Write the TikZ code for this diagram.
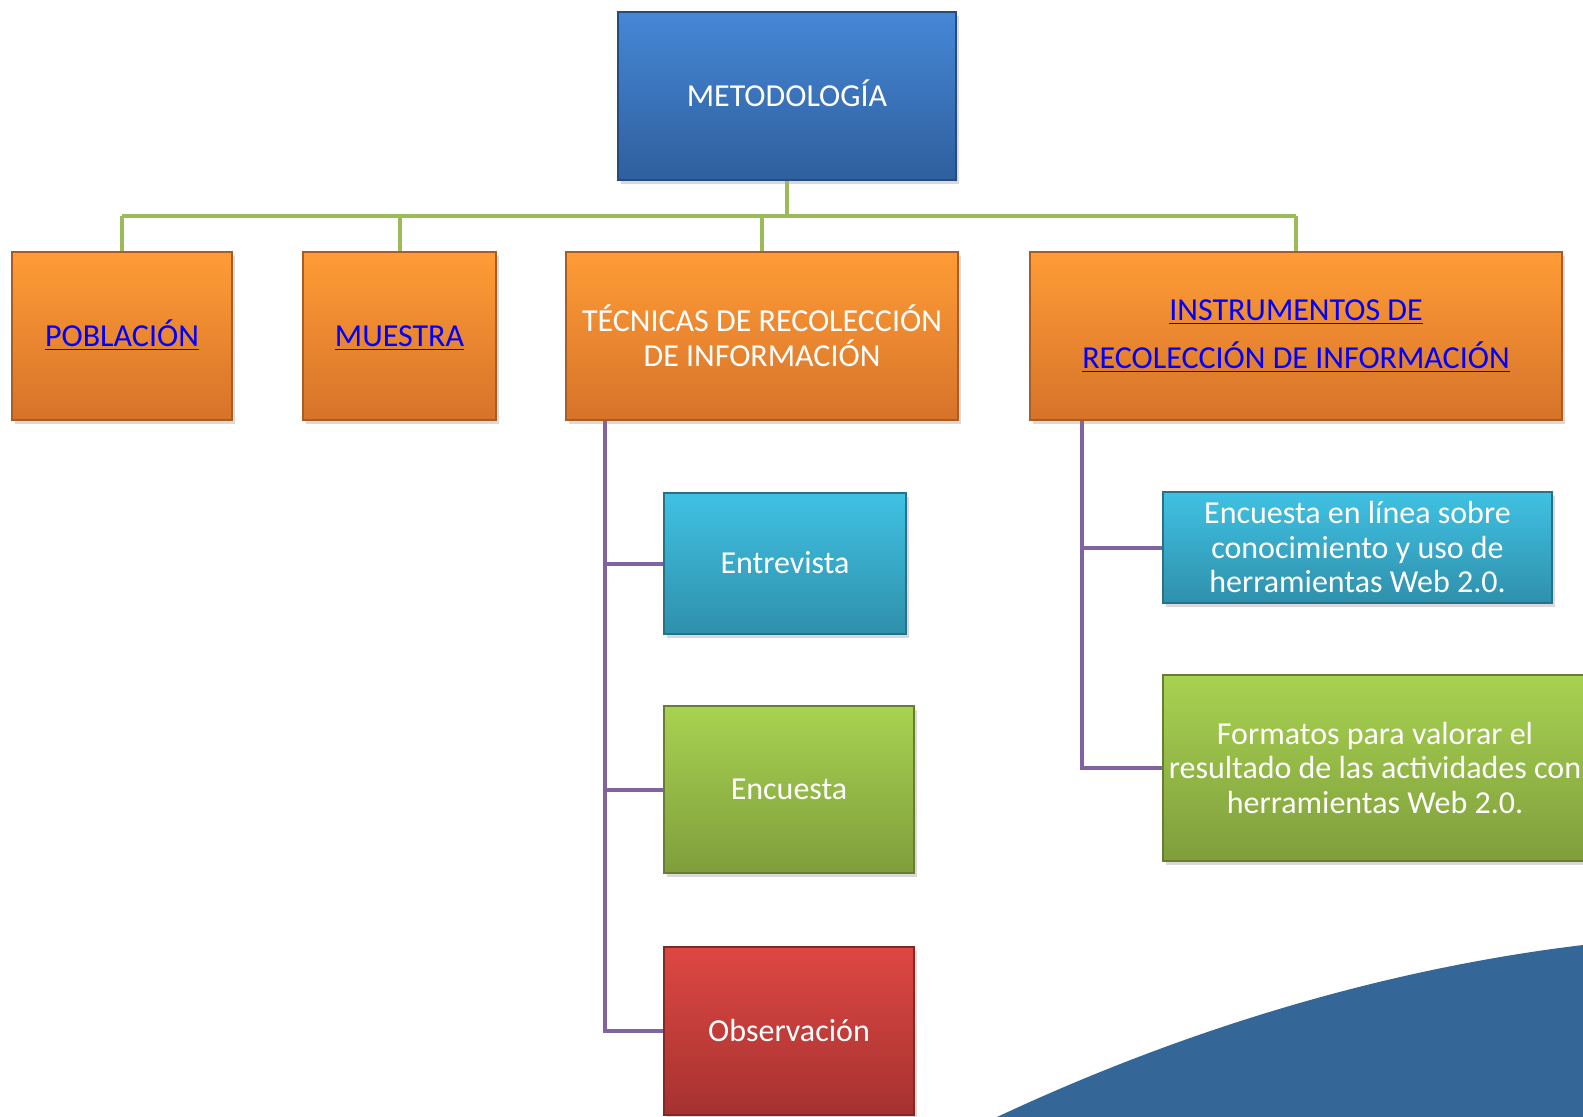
\documentclass[tikz,border=0pt]{standalone}
\usepackage{fontspec}
\setmainfont{Carlito}
\usetikzlibrary{shadows}
\definecolor{azulA}{HTML}{4587D6}
\definecolor{azulB}{HTML}{2F5F9D}
\definecolor{naranjaA}{HTML}{FF9C36}
\definecolor{naranjaB}{HTML}{D6732A}
\definecolor{celesteA}{HTML}{40C1E3}
\definecolor{celesteB}{HTML}{2F90AB}
\definecolor{verdeA}{HTML}{A8D251}
\definecolor{verdeB}{HTML}{7F9E3C}
\definecolor{rojoA}{HTML}{DE4743}
\definecolor{rojoB}{HTML}{A53230}
\definecolor{ramaverde}{HTML}{9BBB59}
\definecolor{tallomorado}{HTML}{8064A2}
\definecolor{fondoazul}{HTML}{346698}
\definecolor{enlace}{HTML}{0000FF}
\newcommand{\liga}[1]{\textcolor{enlace}{\underline{#1}}}
\tikzset{
  cajon/.style={line width=.6pt, inner sep=0pt, align=center, text=white,
    font=\fontsize{16}{17.25}\selectfont,
    drop shadow={shadow xshift=1.5pt, shadow yshift=-2pt, opacity=.3}},
  unalinea/.style={text height=13pt, text depth=2.7pt},
  azul/.style={cajon, draw=azulB!80!black, top color=azulA, bottom color=azulB},
  naranja/.style={cajon, draw=naranjaB!80!black, top color=naranjaA, bottom color=naranjaB},
  celeste/.style={cajon, draw=celesteB!80!black, top color=celesteA, bottom color=celesteB},
  verde/.style={cajon, draw=verdeB!80!black, top color=verdeA, bottom color=verdeB},
  rojo/.style={cajon, draw=rojoB!80!black, top color=rojoA, bottom color=rojoB},
  rama/.style={draw=ramaverde, line width=2pt},
  tallo/.style={draw=tallomorado, line width=2pt},
}
\begin{document}
\begin{tikzpicture}[x=.5pt,y=-.5pt]
\useasboundingbox (0,0) rectangle (1583,1117);
\clip (0,0) rectangle (1583,1117);
% fondo
\fill[fondoazul] (997,1117) .. controls (1200,1022) and (1400,967) .. (1583,945) -- (1583,1117) -- cycle;
%
\node[azul, unalinea, minimum width=169pt, minimum height=84pt] (meto) at (787,96) {METODOLOGÍA};
\node[naranja, unalinea, minimum width=110pt, minimum height=84pt] (pob) at (122,336) {\liga{POBLACIÓN}};
\node[naranja, unalinea, minimum width=96.5pt, minimum height=84pt] (mue) at (399.5,336) {\liga{MUESTRA}};
\node[naranja, minimum width=196pt, minimum height=84pt] (tec) at (762,336) {TÉCNICAS DE RECOLECCIÓN\\DE INFORMACIÓN};
\node[naranja, minimum width=266pt, minimum height=84pt, font=\fontsize{16}{24}\selectfont] (inst) at (1296,336)
  {\liga{INSTRUMENTOS DE}\\\liga{RECOLECCIÓN DE INFORMACIÓN}};
%
\node[celeste, unalinea, minimum width=121pt, minimum height=70.5pt] (entr) at (785,563.5) {Entrevista};
\node[verde, unalinea, minimum width=125pt, minimum height=83.5pt] (enc) at (789,789.5) {Encuesta};
\node[rojo, unalinea, minimum width=125pt, minimum height=84pt] (obs) at (789,1031) {Observación};
\node[celeste, minimum width=194.5pt, minimum height=55.5pt] (encl) at (1357.5,547.5)
  {Encuesta en línea sobre\\conocimiento y uso de\\herramientas Web 2.0.};
\node[verde, minimum width=212pt, minimum height=93pt] (form) at (1375,768)
  {Formatos para valorar el\\resultado de las actividades con\\herramientas Web 2.0.};
%
\draw[rama] (meto.south) -- ++(0,35) coordinate (hub);
\draw[rama] (hub -| pob.north) -- (hub -| inst.north);
\foreach \n in {pob,mue,tec,inst}
  \draw[rama] (hub -| \n.north) -- (\n.north);
%
\coordinate (tecpie) at ([xshift=20pt]tec.south west);
\draw[tallo] (tecpie) |- (obs.west);
\foreach \n in {entr,enc}
  \draw[tallo] (tecpie |- \n.west) -- (\n.west);
\coordinate (instpie) at ([xshift=26.5pt]inst.south west);
\draw[tallo] (instpie) |- (form.west);
\draw[tallo] (instpie |- encl.west) -- (encl.west);
\end{tikzpicture}
\end{document}
